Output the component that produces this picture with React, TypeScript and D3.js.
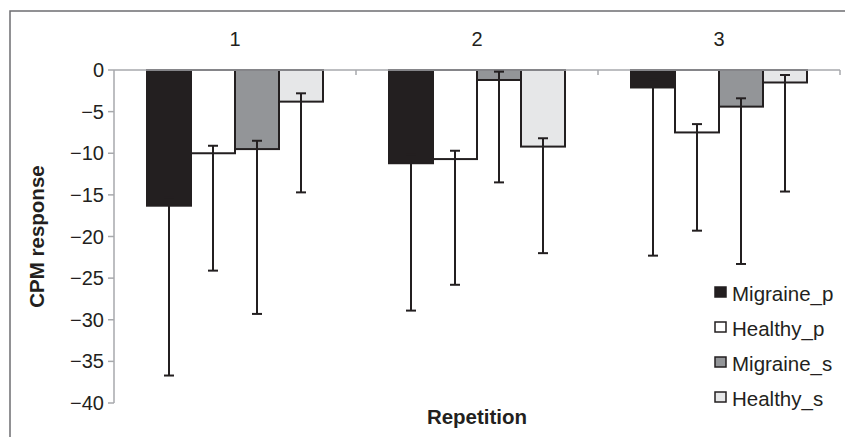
import * as d3 from "d3";

const categories = ["1", "2", "3"];
const series = ["Migraine_p", "Healthy_p", "Migraine_s", "Healthy_s"];
const fills = ["#231f20", "#ffffff", "#939598", "#e6e7e8"];

// mean response per repetition
const migraineP = [-16.3, -11.2, -2.1];
const healthyP = [-10.0, -10.7, -7.5];
const migraineS = [-9.5, -1.2, -4.4];
const healthyS = [-3.8, -9.2, -1.5];
// error bar ends (top cap, bottom cap)
const upperErr = [
  [-15.3, -10.2, -1.1],
  [-9.1, -9.7, -6.5],
  [-8.5, -0.2, -3.4],
  [-2.8, -8.2, -0.6],
];
const lowerErr = [
  [-36.7, -28.9, -22.3],
  [-24.1, -25.8, -19.3],
  [-29.3, -13.5, -23.3],
  [-14.7, -22.0, -14.6],
];
const yTicks = [0, -5, -10, -15, -20, -25, -30, -35, -40];

const values = [migraineP, healthyP, migraineS, healthyS];

export default function App() {
  const W = 845;
  const H = 437;
  const ink = "#231f20";
  const axisGray = "#a7a9ac";
  const font = "'Liberation Sans', Arial, sans-serif";

  const x = d3.scaleBand().domain(categories).range([114, 840]);
  const inner = d3.scaleBand().domain(series).range([33, x.bandwidth() - 33]);
  const y = d3.scaleLinear().domain([0, -40]).range([70, 403]);

  const bars = categories.flatMap((c, ci) =>
    series.map((s, si) => ({
      key: `${c}-${s}`,
      x0: (x(c) ?? 0) + (inner(s) ?? 0),
      v: values[si][ci],
      hi: upperErr[si][ci],
      lo: lowerErr[si][ci],
      fill: fills[si],
    }))
  );
  const bw = inner.bandwidth();

  return (
    <svg
      width={W}
      height={H}
      style={{ position: "absolute", left: 0, top: 0, display: "block", background: "#fff" }}
      fontFamily={font}
    >
      <rect x={10} y={11} width={1000} height={1000} fill="#fff" stroke="#6d6e71" strokeWidth={1.5} />

      {/* bars */}
      {bars.map((b) => (
        <rect
          key={b.key}
          x={b.x0}
          y={y(0)}
          width={bw}
          height={y(b.v) - y(0)}
          fill={b.fill}
          stroke={ink}
          strokeWidth={2}
        />
      ))}

      {/* axes */}
      <line x1={114} x2={840} y1={y(0)} y2={y(0)} stroke={axisGray} strokeWidth={1.5} />
      {x.domain().map((c) => (
        <line key={c} x1={(x(c) ?? 0) + x.bandwidth()} x2={(x(c) ?? 0) + x.bandwidth()} y1={y(0)} y2={y(0) + 5} stroke={axisGray} strokeWidth={1.5} />
      ))}
      <line x1={114} x2={114} y1={y(0)} y2={y(-40)} stroke={axisGray} strokeWidth={1.5} />
      {yTicks.map((t) => (
        <g key={t}>
          <line x1={108} x2={114} y1={y(t)} y2={y(t)} stroke={axisGray} strokeWidth={1.5} />
          <text x={104} y={y(t)} dy="0.35em" textAnchor="end" fontSize={20} fill={ink}>
            {t === 0 ? "0" : "\u2212" + Math.abs(t)}
          </text>
        </g>
      ))}

      {/* error bars */}
      {bars.map((b) => {
        const cx = b.x0 + bw / 2;
        return (
          <g key={"e" + b.key} stroke={ink} strokeWidth={2}>
            <line x1={cx} x2={cx} y1={y(b.hi)} y2={y(b.lo)} />
            <line x1={cx - 5} x2={cx + 5} y1={y(b.hi)} y2={y(b.hi)} />
            <line x1={cx - 5} x2={cx + 5} y1={y(b.lo)} y2={y(b.lo)} />
          </g>
        );
      })}

      {/* category labels at top */}
      {categories.map((c) => (
        <text key={c} x={(x(c) ?? 0) + x.bandwidth() / 2} y={46} textAnchor="middle" fontSize={20} fill={ink}>
          {c}
        </text>
      ))}

      <text x={477} y={424} textAnchor="middle" fontSize={20.5} fontWeight="bold" fill={ink}>
        Repetition
      </text>
      <text
        transform={`translate(37,${(y(0) + y(-40)) / 2}) rotate(-90)`}
        dy="0.35em"
        textAnchor="middle"
        fontSize={20.5}
        fontWeight="bold"
        fill={ink}
      >
        CPM response
      </text>

      {/* legend */}
      {series.map((s, i) => (
        <g key={s} transform={`translate(715,${301 + i * 35})`}>
          <rect x={0} y={-14} width={11} height={10} fill={fills[i]} stroke={ink} strokeWidth={1.5} />
          <text x={17} y={0} fontSize={20.5} fill={ink}>
            {s}
          </text>
        </g>
      ))}
    </svg>
  );
}
